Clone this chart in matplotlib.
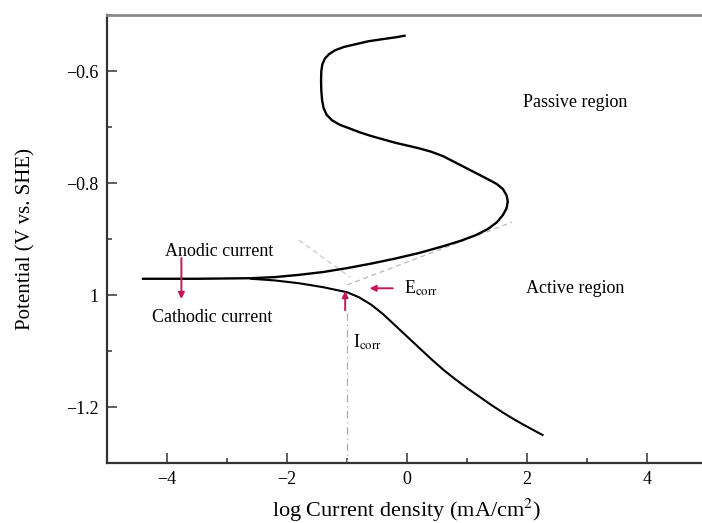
import numpy as np
import matplotlib
matplotlib.use('Agg')
import matplotlib.pyplot as plt
from matplotlib.ticker import MultipleLocator

plt.rcParams['font.family'] = ['Liberation Serif', 'DejaVu Serif']
plt.rcParams['mathtext.fontset'] = 'stix'

# anodic branch, from the flat start to the passive end
anodic_x = [-4.4, -3.5, -2.6, -2.2, -1.8, -1.4, -1.0, -0.6, -0.2, 0.2, 0.6,
            0.9, 1.15, 1.35, 1.5, 1.6, 1.66, 1.68, 1.66, 1.6, 1.5, 1.38, 1.2,
            1.0, 0.8, 0.6, 0.4, 0.2, 0.0, -0.2, -0.4, -0.6, -0.8, -0.97,
            -1.12, -1.25, -1.34, -1.39, -1.415, -1.428, -1.432, -1.428, -1.41,
            -1.37, -1.3, -1.2, -1.05, -0.85, -0.65, -0.4, -0.2, -0.04]
anodic_y = [-0.971, -0.971, -0.970, -0.968, -0.964, -0.959, -0.952, -0.944,
            -0.935, -0.925, -0.913, -0.903, -0.893, -0.882, -0.870, -0.857,
            -0.845, -0.833, -0.822, -0.811, -0.802, -0.795, -0.785, -0.774,
            -0.763, -0.752, -0.744, -0.738, -0.733, -0.728, -0.722, -0.716,
            -0.709, -0.702, -0.696, -0.688, -0.678, -0.666, -0.652, -0.635,
            -0.618, -0.600, -0.588, -0.578, -0.570, -0.563, -0.557, -0.552,
            -0.547, -0.543, -0.540, -0.537]

# cathodic branch
cathodic_x = [-2.6, -2.2, -1.8, -1.4, -1.0, -0.8, -0.6, -0.4, -0.2, 0.0, 0.2,
              0.4, 0.6, 0.8, 1.0, 1.2, 1.4, 1.6, 1.8, 2.0, 2.26]
cathodic_y = [-0.971, -0.974, -0.979, -0.986, -0.995, -1.004, -1.017, -1.034,
              -1.054, -1.074, -1.094, -1.114, -1.133, -1.150, -1.166, -1.181,
              -1.196, -1.210, -1.223, -1.235, -1.250]

# Tafel extrapolation lines
tafel_a_x = [-1.8, -0.95]
tafel_a_y = [-0.902, -0.968]
tafel_c_x = [-1.0, 1.75]
tafel_c_y = [-0.982, -0.870]

e_corr = -0.988
i_corr = -1.0

fig = plt.figure(figsize=(7.02, 5.23), dpi=100)
ax = fig.add_axes([0.1524, 0.1147, 0.8547, 0.8566])

ax.plot(tafel_a_x, tafel_a_y, color='#c8c8c8', lw=0.9, ls=(0, (4, 3)))
ax.plot(tafel_c_x, tafel_c_y, color='#b8b8b8', lw=0.9, ls=(0, (4, 3)))

ax.plot(anodic_x, anodic_y, color='black', lw=1.7, solid_joinstyle='round')
ax.plot(cathodic_x, cathodic_y, color='black', lw=1.5, solid_joinstyle='round')

# I_corr marker line
ax.plot([i_corr, i_corr], [-1.032, -1.3], color='#b8a8b0', lw=0.9, ls=(0, (6, 3, 1, 3)))

red = '#c2185b'
arrow = dict(arrowstyle='-|>', color=red, lw=1.4, mutation_scale=9)
ax.annotate('', xy=(-3.76, -1.012), xytext=(-3.76, -0.929), arrowprops=arrow)
ax.annotate('', xy=(i_corr - 0.03, -0.988), xytext=(i_corr - 0.03, -1.032), arrowprops=arrow)
ax.annotate('', xy=(-0.67, e_corr), xytext=(-0.19, e_corr), arrowprops=arrow)

ax.text(-3.13, -0.923, 'Anodic current', fontsize=13, ha='center', va='center')
ax.text(-3.24, -1.041, 'Cathodic current', fontsize=13, ha='center', va='center')
ax.text(-0.05, e_corr, r'E$_{\mathrm{corr}}$', fontsize=13, ha='left', va='center')
ax.text(-0.9, -1.084, r'I$_{\mathrm{corr}}$', fontsize=13, ha='left', va='center')
ax.text(2.81, -0.657, 'Passive region', fontsize=13, ha='center', va='center')
ax.text(2.81, -0.988, 'Active region', fontsize=13, ha='center', va='center')

ax.set_xlim(-5, 5)
ax.set_ylim(-1.3, -0.5)
ax.xaxis.set_minor_locator(MultipleLocator(1))
ax.set_yticks([-1.2, -1.0, -0.8, -0.6])
ax.set_yticklabels(['\u22121.2', '1', '\u22120.8', '\u22120.6'])
ax.yaxis.set_minor_locator(MultipleLocator(0.1))
ax.set_xticks([-4, -2, 0, 2, 4])
ax.set_xticklabels(['\u22124', '\u22122', '0', '2', '4'])

ax.tick_params(which='both', direction='in', labelsize=13, width=1.1, color='#333333')
ax.tick_params(which='major', length=7, pad=6)
ax.tick_params(which='minor', length=3.5)
ax.tick_params(axis='x', top=False)
ax.tick_params(axis='y', right=False)

for side in ['left', 'bottom']:
    ax.spines[side].set_linewidth(1.6)
    ax.spines[side].set_color('#333333')
ax.spines['top'].set_linewidth(2.0)
ax.spines['top'].set_color('#8a8a8a')
ax.spines['right'].set_visible(False)

ax.set_xlabel('log Current density (mA/cm$^{2}$)', fontsize=16, labelpad=6)
ax.set_ylabel('Potential (V vs. SHE)', fontsize=15, labelpad=22)

fig.savefig('out.png', dpi=100)
